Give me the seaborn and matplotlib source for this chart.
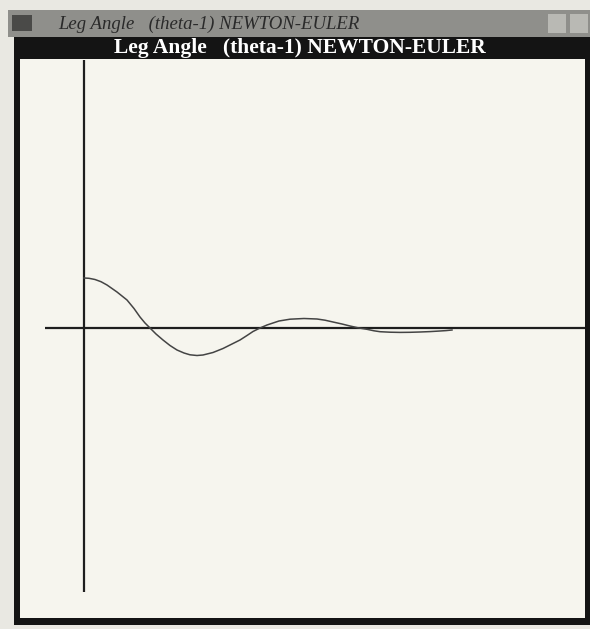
import numpy as np
import pandas as pd
import matplotlib.pyplot as plt
import matplotlib.patches as patches
import seaborn as sns

# leg angle response (time steps, angle in screen units)
time = [0, 5, 11, 17, 23, 33, 43, 50, 56, 61, 66, 72, 79, 86, 93, 100,
        106, 113, 119, 129, 139, 148, 156, 163, 169, 176, 183, 195, 206,
        220, 233, 241, 249, 258, 266, 275, 283, 290, 296, 306, 316, 326,
        336, 346, 356, 362, 368]
theta = [50, 49.7, 48.5, 46.3, 43, 36, 28, 19.5, 11, 5, 0, -6, -12, -17.5,
         -22, -25, -26.8, -27.5, -27, -24.5, -20.5, -16, -12, -7.5, -3.5,
         0, 3, 7, 8.8, 9.5, 9, 7.8, 6, 4, 2, 0, -1.3, -2.8, -3.7, -4.2,
         -4.4, -4.3, -4, -3.6, -3, -2.6, -2]

df = pd.DataFrame({"time": time, "theta": theta})

W, H = 590, 629
fig = plt.figure(figsize=(W / 100, H / 100), dpi=100)
fig.patch.set_facecolor("#e9e8e2")


def box(x0, y0, x1, y1, color):
    # rectangle in pixel coords measured from the top-left corner
    fig.patches.append(patches.Rectangle(
        (x0 / W, 1 - y1 / H), (x1 - x0) / W, (y1 - y0) / H,
        transform=fig.transFigure, facecolor=color, edgecolor="none",
        zorder=-5))


# window frame
box(8, 10, 590, 37, "#8f8f8b")
box(12, 15, 32, 31, "#4a4a48")
box(548, 14, 566, 33, "#b9b9b4")
box(570, 14, 588, 33, "#b9b9b4")
box(14, 37, 590, 625, "#141414")
fig.text(58 / W, 1 - 24 / H, "Leg Angle   (theta-1) NEWTON-EULER",
         family="Liberation Serif", style="italic", fontsize=13.5,
         color="#2a2a2a", va="center", ha="left")
fig.text(300 / W, 1 - 48 / H, "Leg Angle   (theta-1) NEWTON-EULER",
         family="Liberation Serif", weight="bold", fontsize=15.5,
         color="white", va="center", ha="center")

# plot area
x0, x1, y0, y1 = 20, 585, 59, 618
ax = fig.add_axes([x0 / W, 1 - y1 / H, (x1 - x0) / W, (y1 - y0) / H])
ax.set_facecolor("#f6f5ee")
ox, oy = 84, 328
ax.set_xlim(x0 - ox, x1 - ox)
ax.set_ylim(oy - y1, oy - y0)

ax.hlines(0, 45 - ox, x1 - ox, color="#1e1e1e", lw=1.6)
ax.vlines(0, oy - 592, oy - 60, color="#1e1e1e", lw=1.6)

sns.lineplot(data=df, x="time", y="theta", ax=ax, color="#444444", lw=1.1)

for s in ax.spines.values():
    s.set_visible(False)
ax.set_xticks([])
ax.set_yticks([])
ax.set_xlabel("")
ax.set_ylabel("")

fig.savefig("out.png", dpi=100)
